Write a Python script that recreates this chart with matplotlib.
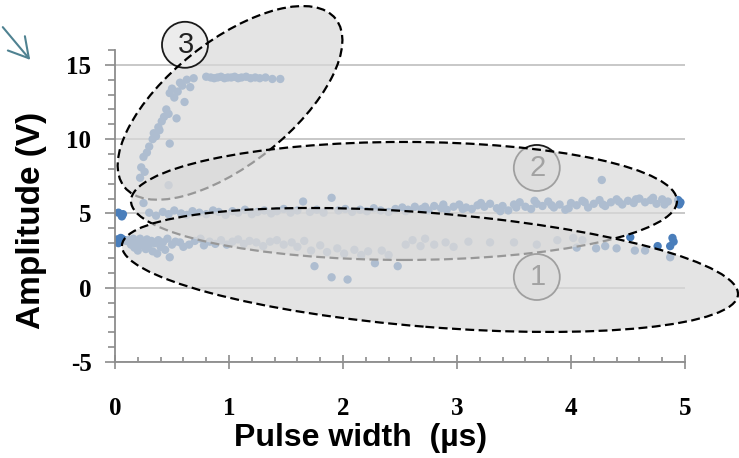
import matplotlib.pyplot as plt
from matplotlib.patches import Ellipse, FancyArrowPatch
from matplotlib.transforms import Affine2D
from matplotlib.ticker import MultipleLocator

plt.rcParams['axes.unicode_minus'] = False

# --- data ------------------------------------------------------------------
# rising branch that saturates near 14 V (region 3)
pw_high = [0.22, 0.23, 0.25, 0.26, 0.28, 0.30, 0.33, 0.34, 0.36, 0.38, 0.39,
           0.41, 0.43, 0.45, 0.47, 0.48, 0.48, 0.50, 0.52, 0.54, 0.55, 0.57,
           0.59, 0.61, 0.63, 0.66, 0.69, 0.80, 0.84, 0.87, 0.90, 0.93, 0.96,
           0.99, 1.02, 1.05, 1.08, 1.11, 1.15, 1.19, 1.23, 1.27, 1.32, 1.38,
           1.45, 0.25, 0.47]
amp_high = [7.4, 8.1, 8.8, 7.8, 9.1, 9.5, 10.0, 10.4, 10.2, 10.8, 10.6,
            11.2, 11.5, 12.0, 11.7, 9.7, 13.1, 13.4, 12.8, 11.4, 13.2, 13.8,
            13.6, 12.5, 14.0, 13.5, 14.1, 14.2, 14.15, 14.1, 14.15, 14.2, 14.1,
            14.15, 14.15, 14.2, 14.1, 14.15, 14.2, 14.1, 14.15, 14.1, 14.15, 14.05,
            14.05, 5.7, 6.9]

# band around 5-6 V (region 2)
pw_mid = [0.03, 0.06, 0.07, 0.30, 0.36, 0.42, 0.47, 0.52, 0.58, 0.63, 0.68,
          0.74, 0.80, 0.86, 0.91, 0.97, 1.03, 1.08, 1.14, 1.20, 1.25, 1.31,
          1.37, 1.42, 1.48, 1.54, 1.60, 1.65, 1.71, 1.77, 1.83, 1.90, 1.96,
          2.02, 2.08, 2.15, 2.21, 2.27, 2.33, 2.40, 2.46, 2.52, 2.57, 2.63,
          2.69, 2.75, 2.80, 2.86, 2.91, 2.97, 3.02, 3.08, 3.13, 3.18, 3.24,
          3.29, 3.35, 3.40, 3.45, 3.50, 3.55, 3.60, 3.65, 3.70, 3.75, 3.80,
          3.85, 3.90, 3.95, 4.00, 4.05, 4.10, 4.15, 4.20, 4.25, 4.27, 4.30,
          4.35, 4.40, 4.45, 4.50, 4.55, 4.60, 4.65, 4.70, 4.75, 4.80, 4.85,
          2.55, 2.72, 2.88, 3.05, 3.21, 3.38, 3.52, 3.68, 3.83, 3.98, 4.12,
          4.28, 4.42, 4.57, 4.72, 4.82, 4.94, 4.95, 4.96]
amp_mid = [5.05, 4.80, 4.95, 5.05, 4.85, 5.10, 4.95, 5.20, 5.00, 4.90, 5.15,
           5.05, 4.95, 5.20, 5.10, 4.90, 5.15, 5.05, 5.25, 4.95, 5.10, 5.20,
           5.00, 5.15, 5.30, 5.05, 5.20, 5.80, 5.10, 5.25, 5.05, 6.05, 5.20,
           5.30, 5.10, 5.25, 5.15, 5.35, 5.20, 5.10, 5.30, 5.40, 5.25, 5.45,
           5.30, 5.20, 5.50, 5.35, 5.25, 5.45, 5.60, 5.40, 5.30, 5.55, 5.45,
           5.65, 5.35, 5.50, 5.20, 5.60, 5.75, 5.45, 5.30, 5.65, 5.50, 5.80,
           5.40, 5.60, 5.25, 5.70, 5.55, 5.85, 5.40, 5.65, 5.90, 7.25, 5.50,
           5.75, 5.95, 5.60, 5.85, 5.70, 6.00, 5.75, 5.90, 5.65, 5.95, 5.80,
           5.15, 5.45, 5.60, 5.30, 5.70, 5.15, 5.40, 5.85, 5.55, 5.35, 5.75,
           5.60, 5.80, 5.95, 6.05, 5.60, 5.90, 5.60, 5.75]

# band around 3 V with a few low outliers (region 1)
pw_low = [0.02, 0.04, 0.06, 0.03, 0.08, 0.05, 0.10, 0.12, 0.14, 0.16, 0.17,
          0.19, 0.20, 0.22, 0.23, 0.25, 0.27, 0.28, 0.30, 0.32, 0.33, 0.35,
          0.37, 0.38, 0.40, 0.42, 0.44, 0.46, 0.48, 0.50, 0.53, 0.57, 0.60,
          0.65, 0.70, 0.75, 0.78, 0.83, 0.88, 0.93, 0.98, 1.03, 1.08, 1.13,
          1.18, 1.24, 1.30, 1.36, 1.42, 1.48, 1.55, 1.60, 1.66, 1.72, 1.75,
          1.80, 1.86, 1.90, 1.95, 2.01, 2.04, 2.10, 2.16, 2.22, 2.28, 2.34,
          2.40, 2.48, 2.55, 2.61, 2.68, 2.72, 2.80, 2.90, 2.97, 3.10, 3.29,
          3.50, 3.70, 3.88, 4.02, 4.05, 4.10, 4.22, 4.30, 4.40, 4.56, 4.65,
          4.87, 4.52, 4.76, 4.89, 4.87, 4.90]
amp_low = [3.25, 3.10, 3.30, 3.00, 3.20, 3.35, 3.15, 3.20, 2.90, 3.30, 2.70,
           3.10, 2.50, 3.30, 2.85, 3.05, 2.60, 3.25, 2.90, 3.15, 2.45, 3.00,
           2.30, 3.20, 2.75, 3.05, 2.55, 3.30, 2.05, 2.90, 3.10, 3.05, 2.75,
           2.90, 3.15, 3.30, 2.85, 3.10, 2.95, 3.20, 2.90, 3.10, 3.25, 2.95,
           3.15, 3.05, 2.80, 3.10, 3.20, 2.90, 3.05, 2.75, 3.15, 2.50, 1.45,
           2.85, 2.40, 0.70, 2.65, 2.30, 0.55, 2.55, 2.20, 2.45, 1.65, 2.50,
           2.20, 1.45, 2.90, 3.20, 2.80, 3.30, 2.90, 3.05, 2.75, 3.10, 3.05,
           3.05, 2.90, 3.20, 3.35, 2.70, 3.20, 2.65, 2.80, 2.65, 2.50, 2.50,
           2.05, 3.40, 2.80, 3.35, 2.80, 3.10]

x_ticks = [0, 1, 2, 3, 4, 5]
y_ticks = [-5, 0, 5, 10, 15]

# highlighted regions: label, centre (data), size (px), tilt (deg)
REGIONS = [
    ('3', (1.009, 12.44), (270, 123), 38.5),
    ('2', (2.535, 5.84), (546, 118), 0.0),
    ('1', (2.763, 1.195), (618, 114), -4.6),
]
BADGES = {'3': (0.614, 16.35), '2': (3.70, 8.06), '1': (3.70, 0.72)}

POINT_COLOR = '#4a7ebb'
AXIS_COLOR = '#8c8c8c'


def plot() -> None:
    fig = plt.figure(figsize=(7.39, 4.58), dpi=100)
    ax = fig.add_axes([115 / 739, 96 / 458, 570 / 739, 312 / 458])
    ax.set_xlim(0, 5)
    ax.set_ylim(-5, 16)

    ax.scatter(pw_high + pw_mid + pw_low, amp_high + amp_mid + amp_low,
               s=36, color=POINT_COLOR, edgecolors='none', zorder=2)

    # pixel-sized shapes placed at data positions
    p0 = ax.transData.transform((0, 0))
    p1 = ax.transData.transform((1, 1))
    ppx, ppy = p1 - p0
    tr = Affine2D().scale(1 / ppx, 1 / ppy) + ax.transData

    z = 3.0
    for label, (cx, cy), (w, h), ang in REGIONS:
        centre = (cx * ppx, cy * ppy)
        ax.add_patch(Ellipse(centre, w, h, angle=ang, transform=tr,
                             facecolor='#d9d9d9', edgecolor='none', alpha=0.7,
                             zorder=z, clip_on=False))
        ax.add_patch(Ellipse(centre, w, h, angle=ang, transform=tr, fill=False,
                             edgecolor='black', lw=1.6, linestyle=(0, (4, 2)),
                             zorder=z + 0.1, clip_on=False))
        bx, by = BADGES[label]
        bz = z + 0.05 if label == '3' else 2.5
        ax.add_patch(Ellipse((bx * ppx, by * ppy), 46, 46, transform=tr,
                             facecolor='#ececec', edgecolor='#1a1a1a', lw=1.3,
                             zorder=bz, clip_on=False))
        ax.text(bx * ppx + 1, by * ppy, label, transform=tr, ha='center',
                va='center', fontsize=21, color='#222222',
                family='Liberation Sans', zorder=bz + 0.01, clip_on=False)
        z += 0.2

    ax.grid(axis='y', which='major', color='#c4c4c4', lw=1.3)
    ax.set_axisbelow(True)
    for side in ('top', 'right'):
        ax.spines[side].set_visible(False)
    for side in ('left', 'bottom'):
        ax.spines[side].set_color(AXIS_COLOR)
        ax.spines[side].set_linewidth(1.3)

    ax.set_xticks(x_ticks)
    ax.set_yticks(y_ticks)
    ax.xaxis.set_minor_locator(MultipleLocator(0.2))
    ax.yaxis.set_minor_locator(MultipleLocator(1))
    ax.tick_params(axis='y', which='major', direction='out', length=7,
                   width=1.2, color=AXIS_COLOR, pad=10)
    ax.tick_params(axis='y', which='minor', direction='out', length=5,
                   width=1.2, color=AXIS_COLOR)
    ax.tick_params(axis='x', which='major', direction='inout', length=10,
                   width=1.2, color=AXIS_COLOR, pad=20)
    ax.tick_params(axis='x', which='minor', direction='in', length=3.5,
                   width=1.2, color=AXIS_COLOR)
    for lab in ax.get_xticklabels() + ax.get_yticklabels():
        lab.set_family('Liberation Serif')
        lab.set_fontweight('bold')
        lab.set_fontsize(18)

    ax.set_xlabel('Pulse width  (µs)', fontsize=23, fontweight='bold',
                  family='Liberation Sans')
    ax.xaxis.set_label_coords(0.43, -0.195)
    ax.set_ylabel('Amplitude (V)', fontsize=24, fontweight='bold',
                  family='Liberation Sans')
    ax.yaxis.set_label_coords(-0.120, 0.455)

    fig.add_artist(FancyArrowPatch((1 / 739, 1 - 25 / 458), (32 / 739, 1 - 62 / 458),
                                   transform=fig.transFigure,
                                   arrowstyle='->,head_length=0.7,head_width=0.4',
                                   mutation_scale=20, color='#4f8291', lw=1.5))

    plt.savefig('out.png', dpi=100)


if __name__ == '__main__':
    plot()
